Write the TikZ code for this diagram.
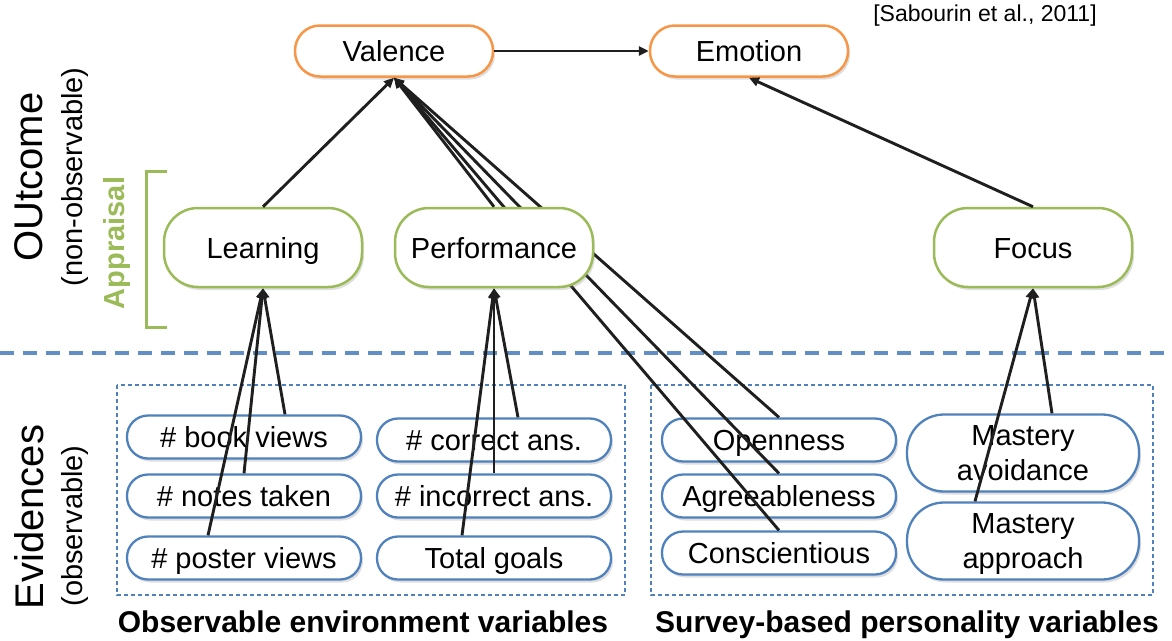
\documentclass[tikz,border=0pt]{standalone}
\usepackage{fontspec}
\setmainfont{Liberation Sans}
\usetikzlibrary{arrows.meta,shadows}
\definecolor{outorange}{RGB}{247,150,70}
\definecolor{appgreen}{RGB}{155,187,89}
\definecolor{evblue}{RGB}{79,129,189}
\newcommand{\nodefont}{\fontsize{29}{35}\selectfont}
\newcommand{\sidefont}{\fontsize{40}{44}\selectfont}
\begin{document}
\begin{tikzpicture}[x=1pt,y=-1pt,
  boxshadow/.style={drop shadow={opacity=0.25,shadow xshift=2pt,shadow yshift=-3pt}},
  outcome/.style={draw=outorange,line width=2.5pt,fill=white,rounded corners=25pt,minimum width=198pt,minimum height=51pt,font=\nodefont,text height=21pt,text depth=0pt,boxshadow},
  appraisal/.style={draw=appgreen,line width=2.5pt,fill=white,rounded corners=34pt,minimum width=198pt,minimum height=79pt,font=\nodefont,text height=21pt,text depth=0pt,boxshadow},
  evid/.style={draw=evblue,line width=2.3pt,fill=white,rounded corners=21pt,minimum width=234pt,minimum height=43pt,font=\nodefont,text height=21pt,text depth=0pt,boxshadow},
  mastery/.style={draw=evblue,line width=2.3pt,fill=white,rounded corners=37pt,minimum width=232pt,minimum height=77pt,font=\nodefont,align=center,text depth=0pt,boxshadow},
  link/.style={line width=2.9pt,black!88,-{Triangle[length=10pt,width=9pt]}},
  areabox/.style={draw=evblue,line width=1.5pt,dash pattern=on 4pt off 3pt}]
\useasboundingbox (0,0) rectangle (1172,640);
\node[font=\fontsize{23}{26}\selectfont,anchor=base] (cite) at (985,21) {[Sabourin et al., 2011]};
\node[rotate=90,font=\sidefont] (outc) at (29,177) {OUtcome};
\node[rotate=90,font=\nodefont] (nonobs) at (75,177) {(non-observable)};
\node[rotate=90,font=\nodefont\bfseries,text=appgreen] (apprlabel) at (117,243) {Appraisal};
\draw[appgreen,line width=3pt] (167,171) -- (146,171) -- (146,327) -- (167,327);
\node[rotate=90,font=\sidefont] (evlabel) at (29,517) {Evidences};
\node[rotate=90,font=\nodefont] (obs) at (75,526) {(observable)};
\draw[evblue!90,line width=3.5pt,dash pattern=on 14pt off 9pt] (0,353) -- (1172,353);
\draw[areabox] (117,385) rectangle (625,595);
\draw[areabox] (651,385) rectangle (1153,595);
\node[font=\fontsize{30}{35}\selectfont\bfseries,anchor=base] (envlab) at (363,632) {Observable environment variables};
\node[font=\fontsize{30}{35}\selectfont\bfseries,anchor=base] (perslab) at (907,632) {Survey-based personality variables};
\node[outcome] (val) at (394,51) {Valence};
\node[outcome] (emo) at (749,51) {Emotion};
\draw[link] (val) -- (emo);
\node[evid] (book) at (244,437) {\# book views};
\node[evid] (notes) at (244,496) {\# notes taken};
\node[evid] (poster) at (244,558) {\# poster views};
\node[evid] (corr) at (494,440) {\# correct ans.};
\node[evid] (incorr) at (494,496) {\# incorrect ans.};
\node[evid] (goals) at (494,558) {Total goals};
\node[evid] (open) at (779,440) {Openness};
\node[evid] (agree) at (779,496) {Agreeableness};
\node[evid] (consc) at (779,553) {Conscientious};
\node[mastery] (avoid) at (1023,453) {Mastery\\avoidance};
\node[mastery] (appr) at (1023,541) {Mastery\\approach};
\draw[link] (open.north) -- (val.south);
\draw[link] (agree.north) -- (val.south);
\draw[link] (consc.north) -- (val.south);
\node[appraisal] (learn) at (263,247.5) {Learning};
\node[appraisal] (perf) at (494,247.5) {Performance};
\node[appraisal] (focus) at (1033,247.5) {Focus};
\draw[link] (learn.north) -- (val.south);
\draw[link] (perf.north) -- (val.south);
\draw[link] (focus.north) -- (emo.south);
\draw[link] ([xshift=41pt]book.north) -- (learn.south);
\draw[link] (notes.north) -- (learn.south);
\draw[link] ([xshift=-36pt]poster.north) -- (learn.south);
\draw[link] ([xshift=24pt]corr.north) -- (perf.south);
\draw[link] (incorr.north) -- (perf.south);
\draw[link] ([xshift=-32pt]goals.north) -- (perf.south);
\draw[link] ([xshift=29pt]avoid.north) -- (focus.south);
\draw[link] ([xshift=-48pt]appr.north) -- (focus.south);
\end{tikzpicture}
\end{document}
